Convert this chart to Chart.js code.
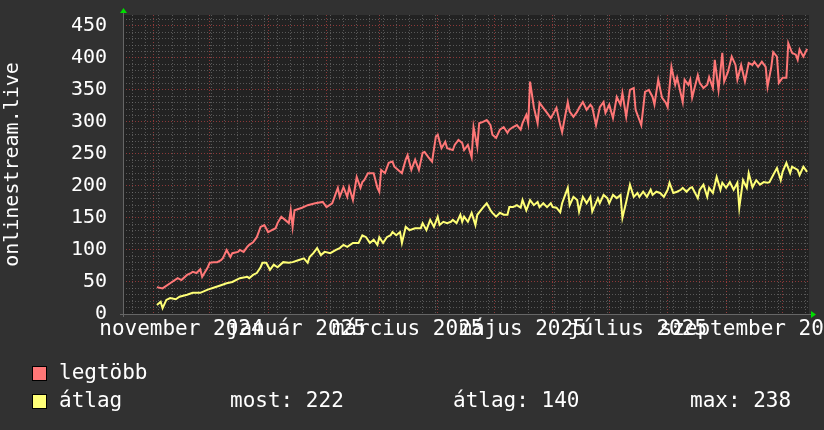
<!DOCTYPE html>
<html>
<head>
<meta charset="utf-8">
<script src="https://cdn.jsdelivr.net/npm/chart.js@4"></script>
<style>
html, body { margin: 0; padding: 0; background: #313131; }
</style>
</head>
<body>
<canvas id="chart" width="824" height="430"></canvas>
<script>
// x values are days counted from 2024-10-16
const maxDays = [18,21,25,29,31,34,36,37,39,41,42,45,46,48,50,52,53,55,57,58,61,62,64,66,67,69,71,73,
  75,77,79,81,82,84,86,88,89,90,91,95,98,102,106,108,111,114,115,117,119,120,122,124,126,127,
  128,130,133,135,136,137,139,141,143,144,146,148,150,151,153,155,157,159,160,162,164,166,167,169,171,172,
  175,176,178,180,181,183,185,186,188,189,191,193,195,196,198,200,202,204,205,207,209,211,212,214,215,216,
  218,220,221,223,225,227,228,230,232,233,236,237,239,241,242,244,246,248,249,251,253,255,256,258,260,262,
  264,265,267,269,271,272,274,275,277,279,281,282,284,286,288,289,291,293,294,297,298,300,301,302,305,306,
  308,310,311,313,314,316,318,319,321,323,325,326,328,330,332,334,335,337,339,341,342,344,345,347,348,350,
  352,353,355,357,358,359,361,363];
const maxValues = [42,40,48,56,53,61,64,66,64,70,58,73,80,81,81,84,87,100,89,95,97,100,97,105,108,112,120,136,
  139,128,131,134,142,152,147,142,162,136,162,166,170,173,175,167,173,197,183,198,183,198,178,214,197,206,
  209,220,220,197,191,225,220,236,238,230,225,220,241,248,225,241,225,252,253,245,238,277,280,259,269,259,
  256,264,272,267,256,264,245,292,261,298,300,303,295,280,275,288,292,283,288,292,295,288,298,311,298,363,
  323,298,330,322,314,306,311,322,295,284,331,316,308,316,322,331,319,327,323,295,323,331,314,327,306,339,
  327,345,308,350,353,319,303,295,347,350,339,327,366,338,330,323,386,358,369,331,366,358,366,338,373,361,
  353,358,370,353,397,350,408,363,378,402,389,366,389,363,392,389,394,386,394,386,355,386,409,402,361,369,
  369,423,408,405,397,413,402,414];

const avgDays = [18,20,21,23,25,28,30,34,37,41,45,48,52,55,58,62,66,67,69,71,73,74,76,78,80,82,85,88,90,93,
  96,98,99,101,103,105,107,110,113,115,117,119,122,125,127,129,131,133,135,136,138,140,142,143,145,147,148,
  150,152,155,158,159,161,163,165,167,168,170,172,174,175,177,179,180,181,183,185,187,188,191,193,195,196,
  198,200,202,204,205,207,209,211,212,214,216,218,220,221,223,225,227,228,230,232,233,236,237,239,241,242,
  244,246,248,249,252,253,255,257,258,260,262,264,265,267,269,271,273,274,276,278,280,281,283,285,287,289,
  290,292,294,296,297,299,301,302,305,306,308,310,311,313,315,317,318,320,322,324,326,327,329,331,332,334,
  336,338,340,342,343,345,347,349,350,352,354,355,358,359,361,363];
const avgValues = [14,19,9,22,25,23,27,30,33,33,38,41,45,48,50,56,58,56,61,64,73,80,80,69,77,73,81,80,81,84,
  87,80,89,95,103,92,97,95,100,103,108,105,111,111,123,120,111,116,108,120,111,120,123,128,123,128,111,
  136,131,134,134,142,131,147,136,152,139,144,142,144,147,142,155,144,152,144,158,139,155,166,173,162,158,
  152,158,155,155,167,167,170,166,178,162,178,170,175,167,173,167,173,167,166,159,173,197,170,183,178,160,
  183,173,183,160,181,173,186,181,173,186,181,186,150,175,202,183,189,183,191,183,194,186,191,189,183,194,
  205,189,191,194,197,191,197,198,181,194,202,183,197,189,214,194,205,197,206,194,205,166,209,197,220,198,
  209,202,206,205,206,217,228,209,222,236,220,230,225,217,230,222];

const monthStarts = [16,46,77,108,136,167,197,228,258,289,320,350];
const xLabelDays = [31,92,151,212,273,335];
const xLabels = ['november 2024','január 2025','március 2025','május 2025','július 2025','szeptember 2025'];
const yLabelValues = [0,50,100,150,200,250,300,350,400,450];

const legendItems = [
    { text: 'legtöbb', color: '#ff7777' },
    { text: 'átlag', color: '#ffff77' }
];
const avgStats = ['most: 222', 'átlag: 140', 'max: 238'];

// weekly minor grid (Mondays) and 10-unit minor grid
const weekDays = [];
for (let d = 5; d < 364; d += 7) weekDays.push(d);
const yGrid = [];
for (let v = 0; v <= 460; v += 10) yGrid.push(v);

const MONO = 'DejaVu Sans Mono';
const MINOR = 'rgba(125,125,125,0.6)';
const MAJOR = 'rgba(160,60,60,0.85)';

const rrdLook = {
    id: 'rrdLook',
    beforeDraw(chart) {
        const { ctx, chartArea: a } = chart;
        ctx.save();
        ctx.fillStyle = '#313131';
        ctx.fillRect(0, 0, chart.width, chart.height);
        ctx.fillStyle = '#222222';
        ctx.fillRect(a.left, a.top, a.right - a.left, a.bottom - a.top);
        ctx.restore();
    },
    afterDraw(chart) {
        const { ctx, chartArea: a } = chart;
        ctx.save();
        // axes
        ctx.strokeStyle = '#666';
        ctx.lineWidth = 1;
        ctx.beginPath();
        ctx.moveTo(a.left - 3, a.bottom + 0.5);
        ctx.lineTo(a.right + 3, a.bottom + 0.5);
        ctx.moveTo(a.left + 0.5, a.bottom + 3);
        ctx.lineTo(a.left + 0.5, a.top - 3);
        ctx.stroke();
        // arrows
        ctx.fillStyle = '#00dd00';
        ctx.beginPath();
        ctx.moveTo(a.left - 3, a.top - 2);
        ctx.lineTo(a.left + 4, a.top - 2);
        ctx.lineTo(a.left + 0.5, a.top - 7);
        ctx.fill();
        ctx.beginPath();
        ctx.moveTo(a.right + 2, a.bottom - 3);
        ctx.lineTo(a.right + 2, a.bottom + 4);
        ctx.lineTo(a.right + 7, a.bottom + 0.5);
        ctx.fill();
        // legend
        ctx.font = '21px "' + MONO + '"';
        ctx.textBaseline = 'middle';
        legendItems.forEach((item, i) => {
            const y = 374 + i * 28;
            ctx.fillStyle = item.color;
            ctx.fillRect(32, y - 8, 15, 15);
            ctx.strokeStyle = '#000';
            ctx.strokeRect(32.5, y - 7.5, 14, 14);
            ctx.fillStyle = '#ffffff';
            ctx.fillText(item.text, 59, y);
        });
        const statX = [230, 453, 690];
        avgStats.forEach((s, i) => ctx.fillText(s, statX[i], 402));
        ctx.restore();
    }
};

new Chart(document.getElementById('chart'), {
    type: 'line',
    data: {
        datasets: [{
            label: 'legtöbb',
            data: maxDays.map((d, i) => ({ x: d, y: maxValues[i] })),
            borderColor: '#ff7777',
            borderWidth: 2,
            pointRadius: 0,
            tension: 0
        }, {
            label: 'átlag',
            data: avgDays.map((d, i) => ({ x: d, y: avgValues[i] })),
            borderColor: '#ffff77',
            borderWidth: 2,
            pointRadius: 0,
            tension: 0
        }]
    },
    options: {
        responsive: false,
        animation: false,
        layout: { padding: { top: 15, right: 15, bottom: 76, left: 0 } },
        plugins: { legend: { display: false }, tooltip: { enabled: false } },
        scales: {
            x: {
                type: 'linear',
                min: 0,
                max: 364,
                afterBuildTicks(s) {
                    s.ticks = [...weekDays, ...monthStarts, ...xLabelDays]
                        .sort((a, b) => a - b).map(v => ({ value: v }));
                },
                afterFit(s) {
                    s.height = 40;
                    s.paddingLeft = 0;
                    s.paddingRight = 0;
                },
                ticks: {
                    autoSkip: false,
                    maxRotation: 0,
                    minRotation: 0,
                    padding: 3,
                    color: '#ffffff',
                    font: { family: MONO, size: 21 },
                    callback(v) {
                        const i = xLabelDays.indexOf(v);
                        return i >= 0 ? xLabels[i] : '';
                    }
                },
                grid: {
                    drawTicks: false,
                    color(c) {
                        const v = c.tick && c.tick.value;
                        if (monthStarts.includes(v)) return MAJOR;
                        if (weekDays.includes(v)) return MINOR;
                        return 'rgba(0,0,0,0)';
                    }
                },
                border: { display: false, dash: [1, 2] }
            },
            y: {
                min: 0,
                max: 467,
                afterBuildTicks(s) {
                    s.ticks = yGrid.map(v => ({ value: v }));
                },
                afterFit(s) {
                    s.width = 123;
                    s.paddingTop = 0;
                    s.paddingBottom = 0;
                },
                ticks: {
                    autoSkip: false,
                    padding: 16,
                    color: '#ffffff',
                    font: { family: MONO, size: 20 },
                    callback(v) {
                        return yLabelValues.includes(v) ? String(v) : '';
                    }
                },
                grid: {
                    drawTicks: false,
                    color(c) {
                        const v = c.tick && c.tick.value;
                        return yLabelValues.includes(v) ? MAJOR : MINOR;
                    }
                },
                border: { display: false, dash: [1, 2] },
                title: {
                    display: true,
                    text: 'onlinestream.live',
                    color: '#ffffff',
                    font: { family: MONO, size: 20 },
                    padding: { top: 1, bottom: 0 }
                }
            }
        }
    },
    plugins: [rrdLook]
});
</script>
</body>
</html>
